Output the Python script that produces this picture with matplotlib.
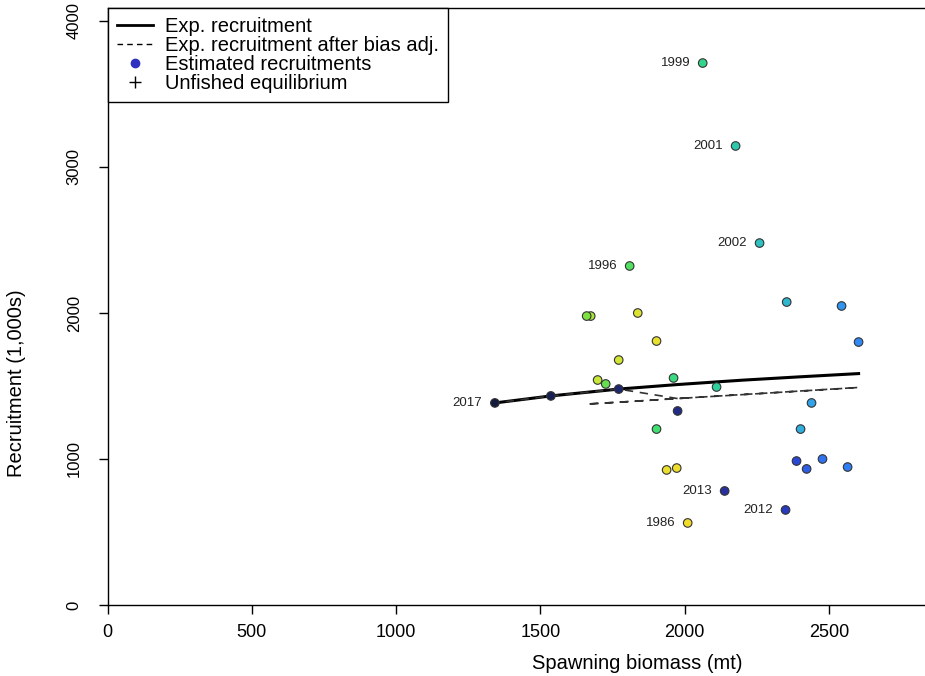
import matplotlib
matplotlib.use("Agg")
import matplotlib.pyplot as plt
from matplotlib.colors import LinearSegmentedColormap
from matplotlib.lines import Line2D

plt.rcParams["font.family"] = ["Liberation Sans", "DejaVu Sans"]

# estimated recruitments by year
years = list(range(1986, 2018))
ssb = [2010, 1972, 1937, 1902, 1837, 1771, 1698, 1674, 1660, 1726,
       1809, 1902, 1961, 2062, 2110, 2176, 2259, 2353, 2401, 2439,
       2543, 2602, 2564, 2477, 2422, 2387, 2349, 2138, 1975, 1771,
       1536, 1342]
recruits = [562, 938, 925, 1808, 2000, 1678, 1541, 1979, 1979, 1514,
            2322, 1205, 1555, 3712, 1493, 3144, 2479, 2075, 1205, 1384,
            2048, 1801, 945, 1000, 932, 986, 651, 781, 1329, 1479,
            1432, 1384]
labelled = [1986, 1996, 1999, 2001, 2002, 2012, 2013, 2017]

# expected recruitment curve
curve_ssb = [1342, 1536, 1771, 1975, 2200, 2400, 2602]
curve_rec = [1384, 1432, 1479, 1510, 1540, 1563, 1585]

# expected recruitment after bias adjustment, in year order
biasadj_rec = [1418, 1414, 1410, 1405, 1397, 1389, 1381, 1378, 1376, 1384,
               1394, 1405, 1412, 1425, 1430, 1438, 1448, 1460, 1466, 1470,
               1483, 1490, 1485, 1475, 1468, 1464, 1459, 1434, 1414, 1479,
               1432, 1384]

year_cmap = LinearSegmentedColormap.from_list("years", [
    (0.00, "#f2dc2a"), (0.10, "#e6e02e"), (0.20, "#c4e83a"),
    (0.27, "#70e044"), (0.35, "#40e070"), (0.45, "#2ed09a"),
    (0.52, "#2ec0c0"), (0.60, "#30a8e8"), (0.68, "#3088f5"),
    (0.75, "#3070f0"), (0.82, "#2840d0"), (0.87, "#2830a0"),
    (0.93, "#1e2870"), (1.00, "#141a3c")])

fig = plt.figure(figsize=(9.25, 6.76), dpi=100)
ax = fig.add_axes([107.5 / 925, 71 / 676, 827 / 925, 597 / 676])

ax.plot(curve_ssb, curve_rec, color="black", lw=2.2, zorder=3)
ax.plot(ssb, biasadj_rec, color="#333333", lw=1.2, dashes=(5, 4), zorder=3)

span = years[-1] - years[0]
cols = [year_cmap((y - years[0]) / span) for y in years]
ax.scatter(ssb, recruits, s=38, c=cols, edgecolors="#333333",
           linewidths=0.8, zorder=4)

for y, x, r in zip(years, ssb, recruits):
    if y in labelled:
        ax.annotate(str(y), (x, r), xytext=(-9, 0), textcoords="offset points",
                    ha="right", va="center", fontsize=9.5, color="#222222")

ax.set_xlim(0, 2865)
ax.set_ylim(0, 4089)
ax.set_xticks([0, 500, 1000, 1500, 2000, 2500])
ax.set_yticks([0, 1000, 2000, 3000, 4000])
ax.tick_params(axis="both", direction="out", length=6.5, width=1)
ax.tick_params(axis="x", pad=7, labelsize=13)
ax.tick_params(axis="y", pad=12, labelsize=12)
plt.setp(ax.get_yticklabels(), rotation=90, va="center")
for sp in ax.spines.values():
    sp.set_linewidth(1)

# the original plot region runs past the right edge, so the labels sit off-centre
ax.set_xlabel("Spawning biomass (mt)", fontsize=14.5)
ax.xaxis.set_label_coords(0.640, -0.082)
ax.set_ylabel("Recruitment (1,000s)", fontsize=14.5)
ax.yaxis.set_label_coords(-0.0986, 0.372)

handles = [
    Line2D([], [], color="black", lw=2),
    Line2D([], [], color="black", lw=1, dashes=(4, 3)),
    Line2D([], [], ls="none", marker="o", color="#3030c0", markersize=6),
    Line2D([], [], ls="none", marker="+", color="black", markersize=9),
]
labels = ["Exp. recruitment", "Exp. recruitment after bias adj.",
          "Estimated recruitments", "Unfished equilibrium"]
leg = ax.legend(handles, labels, loc="upper left", borderaxespad=0,
                fancybox=False, framealpha=1, edgecolor="black",
                fontsize=14.5, handlelength=1.8, handletextpad=0.6,
                labelspacing=0.0, borderpad=0.45)
leg.get_frame().set_linewidth(1)

fig.savefig("out.png", dpi=100)
